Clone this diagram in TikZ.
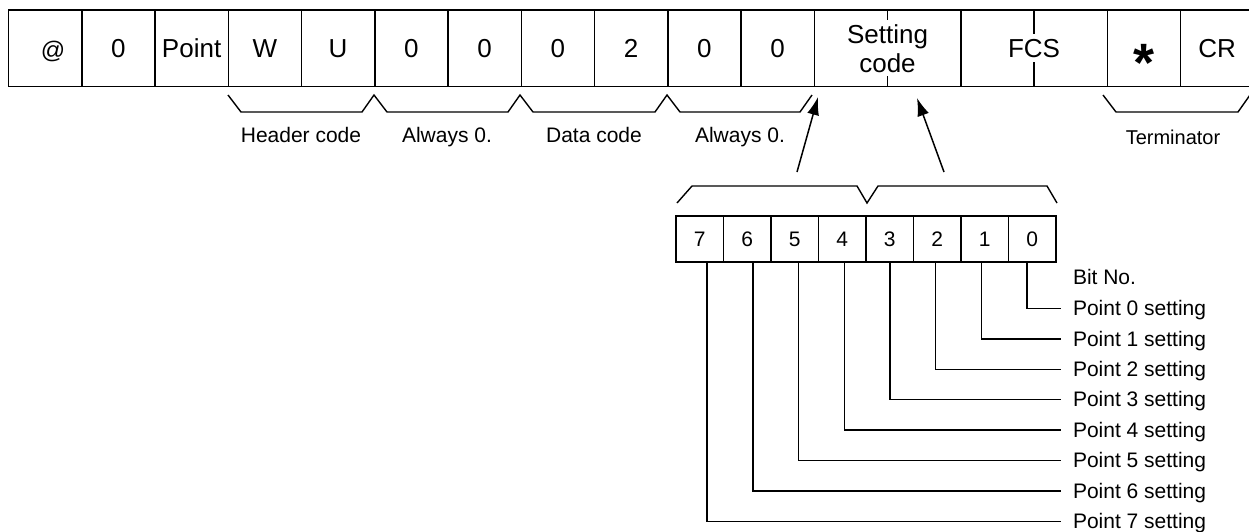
\documentclass[tikz,border=0pt]{standalone}
\usepackage{fontspec}
\setmainfont{Liberation Sans}
\usetikzlibrary{arrows.meta,positioning}

\tikzset{
  frame/.style={draw,line width=0.75pt,minimum width=36.625pt,minimum height=38.25pt,
    inner sep=0pt,outer sep=0pt,font=\fontsize{13}{15}\selectfont},
  widecell/.style={frame,minimum width=73.25pt},
  bitcell/.style={draw,line width=0.75pt,minimum width=23.75pt,minimum height=23pt,
    inner sep=0pt,outer sep=0pt,font=\fontsize{10.5}{12}\selectfont},
  lbl/.style={font=\fontsize{10.5}{12}\selectfont,inner sep=1pt,outer sep=0pt,
    text height=0.72em,text depth=0pt},
  pointlbl/.style={lbl,anchor=west,inner xsep=6pt},
  zig/.style={line width=0.7pt},
  lead/.style={line width=0.75pt},
  arr/.style={line width=0.75pt,-{Latex[length=9pt,width=6pt]}},
}

\begin{document}
\begin{tikzpicture}[x=0.5pt,y=-0.5pt]
    \useasboundingbox (0,0) rectangle (1249,531);
    % --- COMMAND FRAME ---
    \foreach \i/\t in {1/,2/0,3/Point,4/W,5/U,6/0,7/0,8/0,9/2,10/0,11/0,16/,17/CR}
        \node[frame] (c\i) at ({8.5+(\i-0.5)*73.25},48.25) {\t};
    \node[font=\fontsize{12}{14}\selectfont] at ([xshift=4pt,yshift=-1.5pt]c1) {@};
    \node[font=\fontsize{27}{27}\selectfont\bfseries] at ([yshift=-7.5pt]c16) {*};
    \node[widecell] (set) at (887.5,48.25) {};
    \node[widecell] (fcs) at (1034,48.25) {};
    \draw[line width=0.75pt] (set.north) -- (set.south);
    \draw[line width=0.75pt] (fcs.north) -- (fcs.south);
    \node[fill=white,inner sep=2pt,align=center,font=\fontsize{13}{14.5}\selectfont] at (set) {Setting\\code};
    \node[fill=white,inner sep=2.5pt,font=\fontsize{13}{15}\selectfont] at (fcs) {FCS};

    % --- BRACES UNDER THE FRAME ---
    \draw[zig] (228,95) -- (241,112) -- (362,112) -- (374,95) -- (387,112) -- (508,112)
        -- (520,95) -- (533,112) -- (655,112) -- (667,95) -- (680,112) -- (800,112) -- (812,95);
    \draw[zig] (1103,95) -- (1116,112) -- (1238,112) -- (1250,95);
    \node[lbl] (hdr) at (301,135) {Header code};
    \node[lbl] (zeroA) at (447,135) {Always 0.};
    \node[lbl] (dat) at (594,135) {Data code};
    \node[lbl] (zeroB) at (740,135) {Always 0.};
    \node[lbl,font=\fontsize{10}{12}\selectfont] (term) at (1173,137) {Terminator};

    % --- SETTING CODE BITS ---
    \coordinate (tailA) at (797,172);
    \coordinate (tipA) at (818,97);
    \coordinate (tailB) at (944,172);
    \coordinate (tipB) at (917,98);
    \draw[arr] (tailA) -- (tipA);
    \draw[arr] (tailB) -- (tipB);
    \draw[zig] (677,203) -- (692,186) -- (857,186) -- (867,203) -- (878,186) -- (1047,186) -- (1057,203);
    \foreach \b in {0,...,7}
        \node[bitcell] (b\b) at ({1032.25-47.5*\b},239) {\b};
    \node[pointlbl] (bitno) at (1061,277) {Bit No.};
    \foreach \b in {0,...,7}{
        \node[pointlbl] (p\b) at (1061,{308.5+30.4*\b}) {Point \b{} setting};
        \draw[lead] ([xshift={(0.9*\b-2.6)*1pt}]b\b.south) |- (p\b.west);
    }
\end{tikzpicture}
\end{document}
